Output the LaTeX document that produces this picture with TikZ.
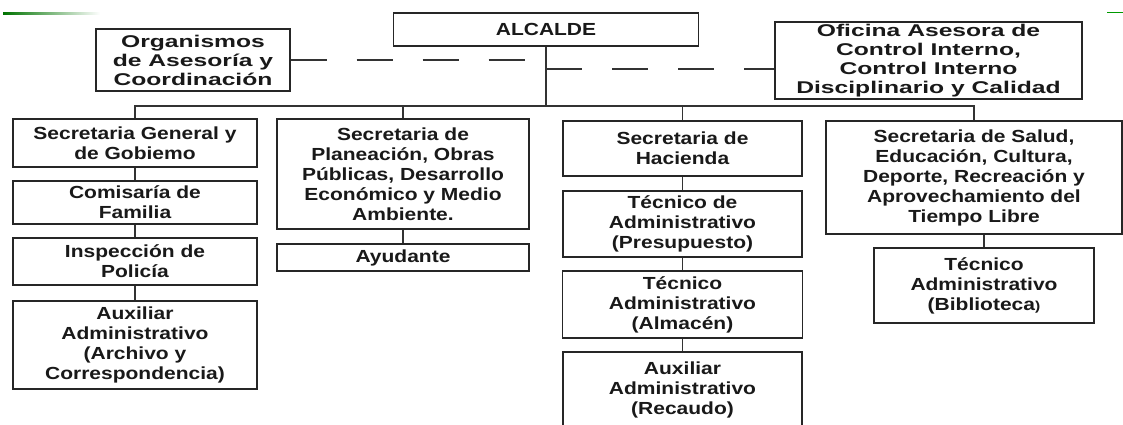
\documentclass[tikz,border=0pt]{standalone}
\usepackage{fontspec}
\usetikzlibrary{positioning,calc}
\newfontfamily\boxfont{Liberation Sans}[FakeStretch=1.2]
\newfontfamily\wideboxfont{Liberation Sans}[FakeStretch=1.45]

\begin{document}
\begin{tikzpicture}[
    x=1pt, y=-1pt,
    box/.style={draw=black!85, line width=1.2pt, align=center, inner sep=2pt, text=black!90, font=\boxfont\bfseries\fontsize{17.5}{20}\selectfont},
    widebox/.style={box, inner sep=1pt, font=\wideboxfont\bfseries\fontsize{17}{19}\selectfont},
    link/.style={draw=black!80, line width=1.2pt},
    dashlink/.style={draw=black!80, line width=1.1pt, dash pattern=on 36pt off 30pt},
]
\path[use as bounding box, fill=white] (0,0) rectangle (1123,424);
% page edge marks
\shade[left color=green!45!black, right color=white] (3,12) rectangle (100,14.5);
\draw[green!60!black, line width=1pt] (1107,12) -- (1123,12);

% top level
\node[box, minimum width=305pt, minimum height=33pt] (alc) at (546,29.5) {ALCALDE};
\node[widebox, minimum width=194pt, minimum height=62pt] (org) at (193,60) {Organismos\\de Asesoría y\\Coordinación};
\node[widebox, minimum width=307pt, minimum height=77pt] (ofi) at (928.5,60.5) {Oficina Asesora de\\Control Interno,\\Control Interno\\Disciplinario y Calidad};

% secretarias
\node[box, minimum width=244pt, minimum height=48pt] (sg) at (135,143) {Secretaria General y\\de Gobiemo};
\node[box, minimum width=252pt, minimum height=110pt] (plan) at (403,174) {Secretaria de\\Planeación, Obras\\Públicas, Desarrollo\\Económico y Medio\\Ambiente.};
\node[box, minimum width=239pt, minimum height=55pt] (hac) at (682.5,148.5) {Secretaria de\\Hacienda};
\node[box, minimum width=296pt, minimum height=113pt] (sal) at (974,177.5) {Secretaria de Salud,\\Educación, Cultura,\\Deporte, Recreación y\\Aprovechamiento del\\Tiempo Libre};

% column 1
\node[box, minimum width=244pt, minimum height=43pt] (com) at (135,202.5) {Comisaría de\\Familia};
\node[box, minimum width=244pt, minimum height=47pt] (ins) at (135,261.5) {Inspección de\\Policía};
\node[box, minimum width=244pt, minimum height=88pt] (aux) at (135,345) {Auxiliar\\Administrativo\\(Archivo y\\Correspondencia)};

% column 2
\node[box, minimum width=252pt, minimum height=27pt] (ayu) at (403,257.5) {Ayudante};

% column 3
\node[box, minimum width=239pt, minimum height=66pt] (pre) at (682.5,224) {Técnico de\\Administrativo\\(Presupuesto)};
\node[box, minimum width=240pt, minimum height=67pt] (alm) at (682.5,304.5) {Técnico\\Administrativo\\(Almacén)};
\node[box, minimum width=239pt, minimum height=76pt] (rec) at (682.5,390) {Auxiliar\\Administrativo\\(Recaudo)};

% column 4
\node[box, minimum width=220pt, minimum height=75pt] (bib) at (984,285.5) {Técnico\\Administrativo\\(Biblioteca{\fontsize{13}{20}\selectfont)}};

% advisory links
\coordinate (dofi) at ([yshift=-8.5pt]ofi.west);
\draw[dashlink] (org.east) -- (org.east -| alc.south);
\draw[dashlink] (alc.south |- dofi) -- (dofi);

% hierarchy
\coordinate (bus) at (546,106);
\draw[link] (alc) -- (bus);
\draw[link] (sg.north) |- (bus) -| (sal.north);
\draw[link] (plan.north) -- (plan.north |- bus);
\draw[link] (hac.north) -- (hac.north |- bus);
\draw[link] (sg) -- (com);
\draw[link] (com) -- (ins);
\draw[link] (ins) -- (aux);
\draw[link] (plan) -- (ayu);
\draw[link] (hac) -- (pre);
\draw[link] (pre) -- (alm);
\draw[link] (alm) -- (rec);
\draw[link] (bib.north) -- (bib.north |- sal.south);
\end{tikzpicture}
\end{document}
